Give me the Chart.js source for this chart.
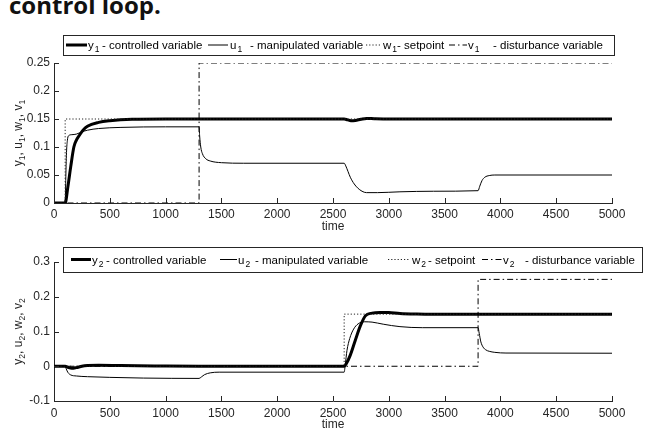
<!DOCTYPE html>
<html>
<head>
<meta charset="utf-8">
<script src="https://cdn.jsdelivr.net/npm/chart.js@4.4.1/dist/chart.umd.min.js"></script>
<style>
  html, body { margin: 0; padding: 0; background: #fff; width: 651px; height: 431px; overflow: hidden; }
  #heading { position: absolute; left: 9px; top: -10px; font: bold 24px "Open Sans", "Noto Sans", sans-serif; color: #111; white-space: nowrap; line-height: 30px; }
  canvas { position: absolute; left: 0; top: 0; }
</style>
</head>
<body>
<div id="heading">control loop.</div>
<canvas id="loop1" width="651" height="431"></canvas>
<canvas id="loop2" width="651" height="431"></canvas>
<script>
// ---- axis ticks ----
const xTickValues = [0, 500, 1000, 1500, 2000, 2500, 3000, 3500, 4000, 4500, 5000];
const xTickLabels = ['0', '500', '1000', '1500', '2000', '2500', '3000', '3500', '4000', '4500', '5000'];
const y1TickValues = [0, 0.05, 0.1, 0.15, 0.2, 0.25];
const y1TickLabels = ['0', '0.05', '0.1', '0.15', '0.2', '0.25'];
const y2TickValues = [-0.1, 0, 0.1, 0.2, 0.3];
const y2TickLabels = ['-0.1', '0', '0.1', '0.2', '0.3'];

// ---- legend text ----
const seriesSymbols = ['y', 'u', 'w', 'v'];
const seriesDescriptions = ['- controlled variable', '- manipulated variable', '- setpoint', '- disturbance variable'];

// ---- loop 1 signals ----
const y1Time = [0, 100, 125, 150, 178, 200, 228, 260, 300, 400, 500, 700, 1000, 1300, 2600, 2630, 2660, 2700, 2750, 2800, 2870, 3000, 5000];
const y1Vals = [0, 0, 0.03, 0.065, 0.1, 0.112, 0.121, 0.13, 0.137, 0.144, 0.147, 0.1495, 0.15, 0.15, 0.15, 0.1485, 0.147, 0.1475, 0.1495, 0.151, 0.1505, 0.15, 0.15];
const u1Time = [0, 100, 105, 112, 120, 130, 160, 200, 250, 300, 400, 600, 1000, 1300, 1305, 1315, 1330, 1360, 1400, 1500, 1700, 2600, 2615, 2635, 2655, 2690, 2720, 2760, 2800, 2900, 3100, 3400, 3800, 3815, 3835, 3860, 3900, 3950, 5000];
const u1Vals = [0, 0, 0.04, 0.09, 0.112, 0.12, 0.122, 0.123, 0.127, 0.13, 0.133, 0.135, 0.136, 0.136, 0.12, 0.1, 0.088, 0.079, 0.075, 0.072, 0.071, 0.071, 0.066, 0.056, 0.046, 0.034, 0.027, 0.021, 0.0185, 0.0185, 0.02, 0.021, 0.022, 0.03, 0.04, 0.046, 0.049, 0.05, 0.05];
const w1Time = [0, 100, 100, 5000];
const w1Vals = [0, 0, 0.15, 0.15];
const v1Time = [0, 1300, 1300, 5000];
const v1Vals = [0, 0, 0.25, 0.25];

// ---- loop 2 signals ----
const y2Time = [0, 100, 130, 160, 200, 250, 300, 400, 600, 900, 1300, 2600, 2620, 2655, 2700, 2745, 2790, 2850, 2920, 3000, 3100, 3250, 3400, 5000];
const y2Vals = [0, 0, -0.004, -0.006, -0.004, 0, 0.002, 0.003, 0.002, 0.001, 0, 0, 0.008, 0.032, 0.075, 0.116, 0.145, 0.153, 0.155, 0.1545, 0.152, 0.1505, 0.15, 0.15];
const u2Time = [0, 100, 110, 125, 150, 200, 300, 500, 800, 1300, 1320, 1350, 1400, 1480, 2600, 2610, 2625, 2650, 2685, 2725, 2780, 2850, 2950, 3100, 3300, 3800, 3810, 3825, 3845, 3870, 3900, 3950, 4050, 5000];
const u2Vals = [0, 0, -0.008, -0.018, -0.025, -0.028, -0.03, -0.032, -0.034, -0.035, -0.031, -0.024, -0.019, -0.017, -0.017, 0.005, 0.045, 0.08, 0.107, 0.122, 0.128, 0.127, 0.121, 0.114, 0.111, 0.111, 0.095, 0.07, 0.055, 0.047, 0.043, 0.04, 0.038, 0.0375];
const w2Time = [0, 2600, 2600, 5000];
const w2Vals = [0, 0, 0.15, 0.15];
const v2Time = [0, 3800, 3800, 5000];
const v2Vals = [0, 0, 0.25, 0.25];

const AXIS = '#262626';
const FONT = '"Liberation Sans", Arial, sans-serif';
const W = 651, H = 431;

function pts(t, v) { return t.map((x, i) => ({ x: x, y: v[i] })); }

// inward tick marks, axis titles with subscripts and a boxed legend
const panelDecor = {
  id: 'panelDecor',
  afterDraw(chart, args, o) {
    const ctx = chart.ctx, xs = chart.scales.x, ys = chart.scales.y, a = chart.chartArea;
    ctx.save();
    ctx.strokeStyle = AXIS; ctx.lineWidth = 1;
    ctx.beginPath();
    xs.ticks.forEach(t => {
      const px = Math.round(xs.getPixelForValue(t.value)) + 0.5;
      ctx.moveTo(px, a.bottom); ctx.lineTo(px, a.bottom - 5);
    });
    ys.ticks.forEach(t => {
      const py = Math.round(ys.getPixelForValue(t.value)) + 0.5;
      ctx.moveTo(a.left, py); ctx.lineTo(a.left + 5, py);
    });
    ctx.stroke();

    // x title
    ctx.fillStyle = AXIS;
    ctx.font = '12px ' + FONT;
    ctx.textAlign = 'center'; ctx.textBaseline = 'middle';
    ctx.fillText('time', (a.left + a.right) / 2, o.xTitleY);

    // y title, rotated, with subscripts
    ctx.textAlign = 'left'; ctx.textBaseline = 'alphabetic';
    const parts = [];
    seriesSymbols.forEach((s, i) => {
      parts.push({ t: (i ? ', ' : '') + s, sub: false });
      parts.push({ t: o.sub, sub: true });
    });
    const mainFont = '12px ' + FONT, subFont = '8.5px ' + FONT;
    let total = 0;
    parts.forEach(p => { ctx.font = p.sub ? subFont : mainFont; p.w = ctx.measureText(p.t).width; total += p.w; });
    ctx.save();
    ctx.translate(o.yTitleX, (a.top + a.bottom) / 2);
    ctx.rotate(-Math.PI / 2);
    let cx = -total / 2;
    parts.forEach(p => {
      ctx.font = p.sub ? subFont : mainFont;
      ctx.fillText(p.t, cx, p.sub ? 7 : 4);
      cx += p.w;
    });
    ctx.restore();

    // legend
    const L = o.legend;
    const legFont = '11.5px ' + FONT;
    ctx.fillStyle = '#fff';
    ctx.fillRect(L.x, L.y, L.w, L.h);
    ctx.strokeStyle = AXIS; ctx.lineWidth = 1;
    ctx.strokeRect(L.x + 0.5, L.y + 0.5, L.w, L.h);
    const mid = L.y + L.h / 2;
    chart.data.datasets.forEach((ds, i) => {
      const it = L.items[i];
      ctx.save();
      ctx.strokeStyle = ds.borderColor; ctx.lineWidth = ds.borderWidth;
      ctx.setLineDash(ds.borderDash || []);
      ctx.beginPath(); ctx.moveTo(it[0], mid); ctx.lineTo(it[1], mid); ctx.stroke();
      ctx.restore();
      ctx.fillStyle = '#000';
      ctx.font = legFont;
      ctx.fillText(seriesSymbols[i], it[2], mid + 4);
      const sw = ctx.measureText(seriesSymbols[i]).width;
      ctx.font = subFont;
      ctx.fillText(o.sub, it[2] + sw + 1, mid + 7);
      ctx.font = legFont;
      ctx.fillText(seriesDescriptions[i], it[3], mid + 4);
    });
    ctx.restore();
  }
};

function makePanel(id, s, p) {
  const smooth = { cubicInterpolationMode: 'monotone', pointRadius: 0, fill: false };
  const sharp = { tension: 0, pointRadius: 0, fill: false };
  return new Chart(document.getElementById(id), {
    type: 'line',
    data: {
      datasets: [
        Object.assign({ label: 'y' + p.sub, data: pts(s.yT, s.yV), borderColor: '#000', borderWidth: 3, order: 4 }, smooth),
        Object.assign({ label: 'u' + p.sub, data: pts(s.uT, s.uV), borderColor: '#000', borderWidth: 1, order: 3 }, smooth),
        Object.assign({ label: 'w' + p.sub, data: pts(s.wT, s.wV), borderColor: '#222', borderWidth: 1, borderDash: [1.2, 2], order: 2 }, sharp),
        Object.assign({ label: 'v' + p.sub, data: pts(s.vT, s.vV), borderColor: '#000', borderWidth: 1, borderDash: [6, 3, 1.5, 3], order: 1 }, sharp)
      ]
    },
    options: {
      responsive: false, animation: false, devicePixelRatio: 1,
      layout: { padding: { left: 0, right: W - p.right, top: p.top, bottom: 0 } },
      plugins: {
        legend: { display: false }, tooltip: { enabled: false },
        panelDecor: { sub: p.sub, xTitleY: p.xTitleY, yTitleX: 18, legend: p.legend }
      },
      scales: {
        x: {
          type: 'linear', min: 0, max: 5000,
          afterBuildTicks: sc => { sc.ticks = xTickValues.map(v => ({ value: v })); },
          afterFit: sc => { sc.height = H - p.bottom; },
          grid: { display: false, drawTicks: false },
          border: { display: true, color: AXIS, width: 1 },
          ticks: { padding: p.xPad, color: AXIS, font: { family: FONT, size: 12 }, maxRotation: 0, autoSkip: false,
                   callback: (v, i) => xTickLabels[i] }
        },
        y: {
          type: 'linear', min: s.yMin, max: s.yMax,
          afterBuildTicks: sc => { sc.ticks = s.tickV.map(v => ({ value: v })); },
          afterFit: sc => { sc.width = p.left; },
          grid: { display: false, drawTicks: false },
          border: { display: true, color: AXIS, width: 1 },
          ticks: { padding: 4, color: AXIS, font: { family: FONT, size: 12 }, autoSkip: false,
                   callback: (v, i) => s.tickL[i] }
        }
      }
    },
    plugins: [panelDecor]
  });
}

makePanel('loop1',
  { yT: y1Time, yV: y1Vals, uT: u1Time, uV: u1Vals, wT: w1Time, wV: w1Vals, vT: v1Time, vV: v1Vals,
    yMin: 0, yMax: 0.25, tickV: y1TickValues, tickL: y1TickLabels },
  { sub: '1', left: 54, right: 612, top: 63, bottom: 203, xPad: 4, xTitleY: 227,
    legend: { x: 63, y: 35, w: 551, h: 20,
              items: [[66, 87, 88, 102], [208, 228, 230, 250], [366, 381, 383, 397], [449, 467, 468, 493]] } });

makePanel('loop2',
  { yT: y2Time, yV: y2Vals, uT: u2Time, uV: u2Vals, wT: w2Time, wV: w2Vals, vT: v2Time, vV: v2Vals,
    yMin: -0.1, yMax: 0.3, tickV: y2TickValues, tickL: y2TickLabels },
  { sub: '2', left: 54, right: 612, top: 262, bottom: 401, xPad: 5, xTitleY: 425,
    legend: { x: 63, y: 247, w: 579, h: 25,
              items: [[71, 91, 92, 106], [220, 237, 238, 255], [388, 410, 412, 428], [482, 502, 503, 525]] } });
</script>
</body>
</html>
